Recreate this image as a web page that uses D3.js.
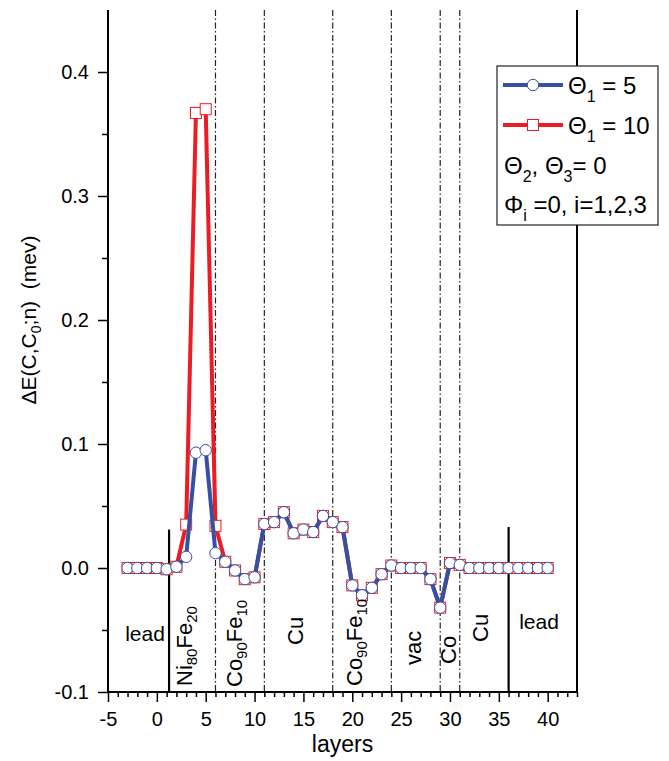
<!DOCTYPE html>
<html>
<head>
<meta charset="utf-8">
<script src="https://cdn.jsdelivr.net/npm/d3@7"></script>
<style>
html,body{margin:0;padding:0;background:#fff;}
svg{display:block;font-family:"Liberation Sans",Arial,Helvetica,sans-serif;}
</style>
</head>
<body>
<svg id="chart" width="669" height="761"></svg>
<script>
// ---- data ----
const layers = d3.range(-3, 41); // -3 .. 40
const theta5 = [
  0, 0, 0, 0, -0.001,            // -3..1
  0.001, 0.009, 0.093, 0.095, 0.012, // 2..6
  0.005, -0.002, -0.009, -0.0075, // 7..10
  0.0355, 0.037, 0.045, 0.028, 0.031, 0.029, 0.042, 0.037, 0.033, // 11..19
  -0.014, -0.022, -0.016, -0.005, 0.002, // 20..24
  0, 0, 0, -0.009, -0.032, 0.004, 0.0025, // 25..31
  0, 0, 0, 0, 0, 0, 0, 0, 0       // 32..40
];
const theta10 = [
  0, 0, 0, 0, -0.001,
  0.001, 0.035, 0.367, 0.370, 0.034,
  0.005, -0.002, -0.009, -0.0075,
  0.0355, 0.037, 0.045, 0.028, 0.031, 0.029, 0.042, 0.037, 0.033,
  -0.014, -0.022, -0.016, -0.005, 0.002,
  0, 0, 0, -0.009, -0.032, 0.004, 0.0025,
  0, 0, 0, 0, 0, 0, 0, 0, 0
];
const xMajorTicks = [-5, 0, 5, 10, 15, 20, 25, 30, 35, 40];
const yMajorTicks = [-0.1, 0.0, 0.1, 0.2, 0.3, 0.4];
const boundaries = [6, 11, 18, 24, 29, 31];   // dash-dot interface lines
const leadEdges = [{x: 1.25, top: 0.031}, {x: 36, top: 0.033}];

// ---- scales ----
const x = d3.scaleLinear().domain([-5, 43]).range([108, 577]);
const y = d3.scaleLinear().domain([-0.1, 0.45]).range([692, 10]);

const svg = d3.select("#chart");
const BLUE = "#3651a3", RED = "#ec1c24";
const R = 5.7, S = 11;

// ---- interface lines ----
svg.append("g").selectAll("line").data(boundaries).join("line")
  .attr("x1", d => x(d)).attr("x2", d => x(d))
  .attr("y1", y(0.45)).attr("y2", y(-0.1))
  .attr("stroke", "#222").attr("stroke-width", 1.2)
  .attr("stroke-dasharray", "6,2.5,1.5,2.5");
svg.append("g").selectAll("line").data(leadEdges).join("line")
  .attr("x1", d => x(d.x)).attr("x2", d => x(d.x))
  .attr("y1", d => y(d.top)).attr("y2", y(-0.1))
  .attr("stroke", "#000").attr("stroke-width", 2.2);

// ---- axes ----
const fmt = d => d3.format(".1f")(d).replace("\u2212", "-");
const fmtX = d => String(d);
const gy = svg.append("g").attr("transform", `translate(${x(-5)},0)`)
  .call(d3.axisLeft(y).tickValues(yMajorTicks).tickSize(10).tickPadding(9).tickFormat(fmt));
const gyMinor = svg.append("g").attr("transform", `translate(${x(-5)},0)`)
  .call(d3.axisLeft(y).tickValues([-0.05, 0.05, 0.15, 0.25, 0.35]).tickSize(6).tickFormat(""));
const gx = svg.append("g").attr("transform", `translate(0,${y(-0.1)})`)
  .call(d3.axisBottom(x).tickValues(xMajorTicks).tickSize(10).tickPadding(10).tickFormat(fmtX));
const gxMinor = svg.append("g").attr("transform", `translate(0,${y(-0.1)})`)
  .call(d3.axisBottom(x).tickValues(d3.range(-5, 44).filter(v => v % 5 !== 0)).tickSize(5).tickFormat(""));
[gy, gyMinor, gx, gxMinor].forEach(g => {
  g.select(".domain").remove();
  g.selectAll(".tick line").attr("stroke", "#000").attr("stroke-width", 1.5);
  g.selectAll(".tick text").attr("font-size", 20).attr("fill", "#000")
    .attr("font-family", "Liberation Sans, Arial, Helvetica, sans-serif");
});
// axis lines (left, bottom, right)
svg.append("line").attr("x1", x(-5)).attr("x2", x(-5)).attr("y1", y(0.45)).attr("y2", y(-0.1) + 1)
  .attr("stroke", "#000").attr("stroke-width", 2);
svg.append("line").attr("x1", x(-5) - 1).attr("x2", x(43) + 1).attr("y1", y(-0.1)).attr("y2", y(-0.1))
  .attr("stroke", "#000").attr("stroke-width", 2);
svg.append("line").attr("x1", x(43)).attr("x2", x(43)).attr("y1", y(0.45)).attr("y2", y(-0.1))
  .attr("stroke", "#000").attr("stroke-width", 2);

// axis titles
svg.append("text").attr("x", (x(-5) + x(43)) / 2).attr("y", 752)
  .attr("text-anchor", "middle").attr("font-size", 23).text("layers");
const yl = svg.append("text").attr("transform", `translate(36,${320}) rotate(-90)`)
  .attr("text-anchor", "middle").attr("font-size", 21);
yl.append("tspan").text("ΔE(C,C");
yl.append("tspan").attr("font-size", 14).attr("dy", 5).text("0");
yl.append("tspan").attr("dy", -5).text(";n)\u00a0\u00a0(mev)");

// ---- series ----
const pts5 = layers.map((l, i) => [l, theta5[i]]);
const pts10 = layers.map((l, i) => [l, theta10[i]]);
const line = d3.line().x(d => x(d[0])).y(d => y(d[1]));

svg.append("path").attr("d", line(pts10)).attr("fill", "none")
  .attr("stroke", RED).attr("stroke-width", 4).attr("stroke-linejoin", "round");
svg.append("g").selectAll("rect").data(pts10).join("rect")
  .attr("x", d => x(d[0]) - S / 2).attr("y", d => y(d[1]) - S / 2)
  .attr("width", S).attr("height", S)
  .attr("fill", "#fff").attr("stroke", RED).attr("stroke-width", 1);
svg.append("path").attr("d", line(pts5)).attr("fill", "none")
  .attr("stroke", BLUE).attr("stroke-width", 4).attr("stroke-linejoin", "round");
svg.append("g").selectAll("circle").data(pts5).join("circle")
  .attr("cx", d => x(d[0])).attr("cy", d => y(d[1])).attr("r", R)
  .attr("fill", "#fff").attr("stroke", BLUE).attr("stroke-width", 1);

// ---- region labels ----
function subLabel(tx, ty, parts, rotate, fs) {
  fs = fs || 22;
  const t = svg.append("text").attr("font-size", fs)
    .attr("transform", `translate(${tx},${ty})` + (rotate ? " rotate(-90)" : ""));
  let shift = 0;
  parts.forEach(p => {
    const ts = t.append("tspan").text(p[0]);
    const want = p[1] ? 5 : 0;
    if (want !== shift) { ts.attr("dy", want - shift); shift = want; }
    if (p[1]) ts.attr("font-size", 15);
  });
  return t;
}
svg.append("text").attr("x", 145).attr("y", 641).attr("text-anchor", "middle").attr("font-size", 21).text("lead");
svg.append("text").attr("x", 539).attr("y", 629).attr("text-anchor", "middle").attr("font-size", 21).text("lead");
subLabel(192, 686, [["Ni"], ["80", 1], ["Fe"], ["20", 1]], true);
subLabel(242, 687, [["Co"], ["90", 1], ["Fe"], ["10", 1]], true);
subLabel(362, 686, [["Co"], ["90", 1], ["Fe"], ["10", 1]], true);
subLabel(303, 645, [["Cu"]], true);
subLabel(421, 665, [["vac"]], true);
subLabel(456, 664, [["Co"]], true);
subLabel(488, 642, [["Cu"]], true);

// ---- legend ----
const lg = svg.append("g");
lg.append("rect").attr("x", 497).attr("y", 66).attr("width", 161).attr("height", 159)
  .attr("fill", "#fff").attr("stroke", "#222").attr("stroke-width", 1.2);
lg.append("line").attr("x1", 503).attr("x2", 563).attr("y1", 85).attr("y2", 85)
  .attr("stroke", BLUE).attr("stroke-width", 4);
lg.append("circle").attr("cx", 533).attr("cy", 85).attr("r", R)
  .attr("fill", "#fff").attr("stroke", BLUE);
lg.append("line").attr("x1", 503).attr("x2", 563).attr("y1", 125).attr("y2", 125)
  .attr("stroke", RED).attr("stroke-width", 4);
lg.append("rect").attr("x", 533 - S / 2).attr("y", 125 - S / 2).attr("width", S).attr("height", S)
  .attr("fill", "#fff").attr("stroke", RED);
function legText(tx, ty, parts) {
  const t = lg.append("text").attr("x", tx).attr("y", ty).attr("font-size", 24);
  let shift = 0;
  parts.forEach(p => {
    const ts = t.append("tspan").text(p[0]);
    const want = p[1] ? 8 : 0;
    if (want !== shift) { ts.attr("dy", want - shift); shift = want; }
    if (p[1]) ts.attr("font-size", 16);
  });
}
legText(568, 94, [["Θ"], ["1", 1], ["\u00a0= 5"]]);
legText(568, 134, [["Θ"], ["1", 1], ["\u00a0= 10"]]);
legText(504, 174, [["Θ"], ["2", 1], [", Θ"], ["3", 1], ["= 0"]]);
legText(504, 213, [["Φ"], ["i", 1], ["\u00a0=0, i=1,2,3"]]);
</script>
</body>
</html>
